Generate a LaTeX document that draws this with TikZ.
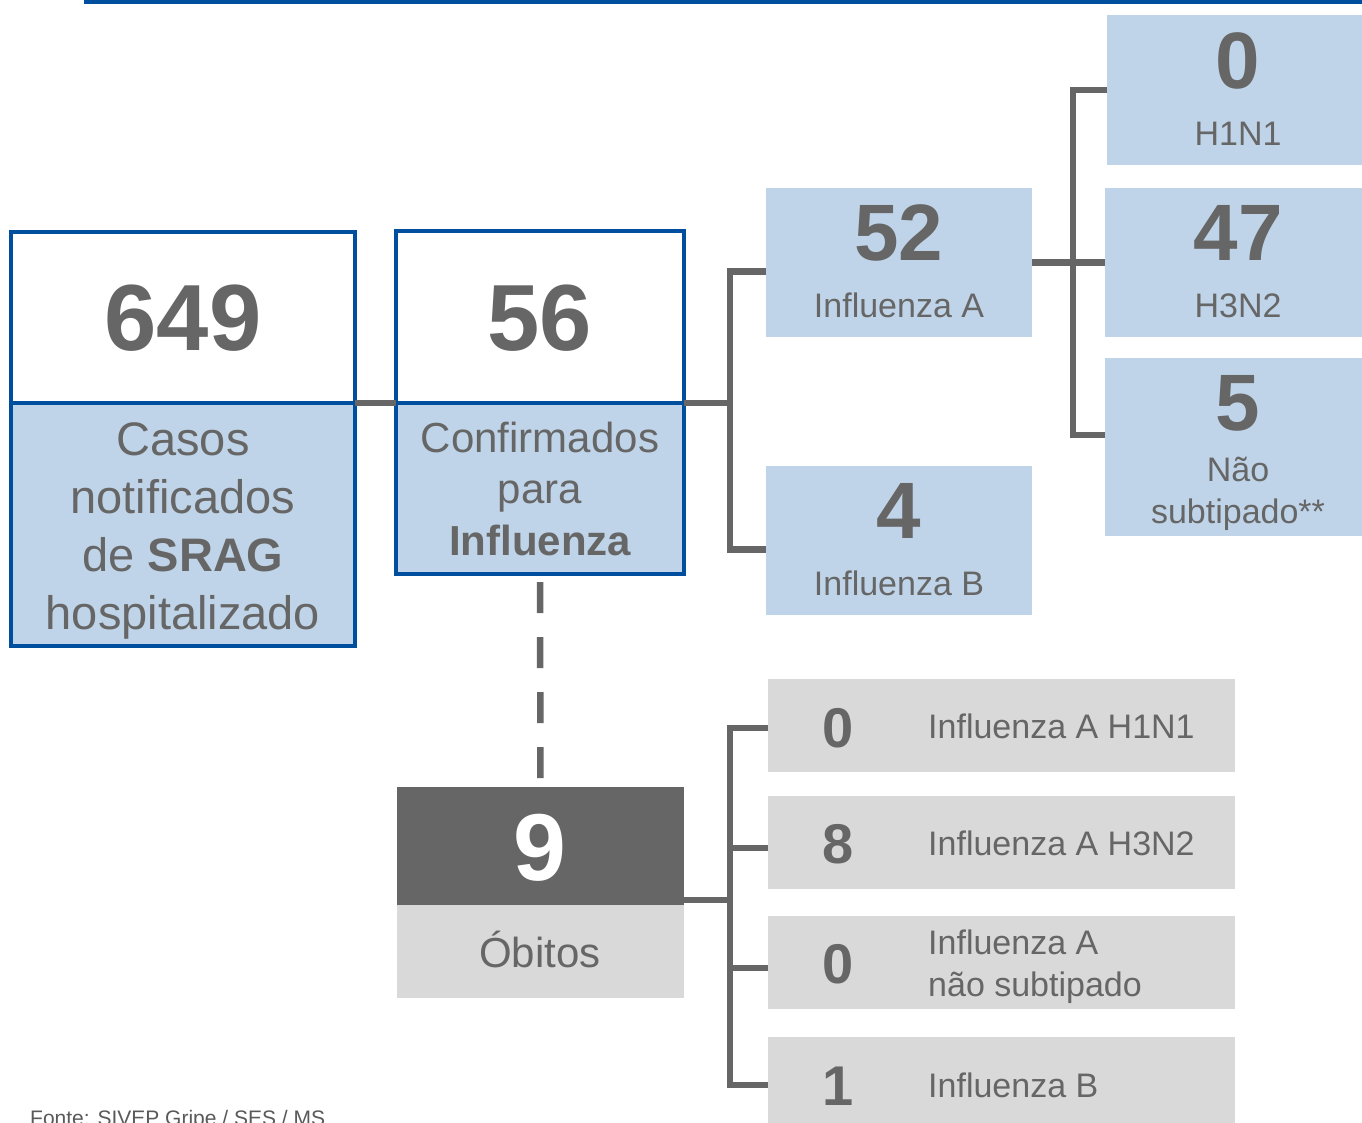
\documentclass[tikz,border=0pt]{standalone}
\usepackage{fontspec}
\setmainfont{Liberation Sans}
\definecolor{bblue}{RGB}{0,78,158}
\definecolor{lblue}{RGB}{191,212,232}
\definecolor{lgray}{RGB}{217,217,217}
\definecolor{dgray}{RGB}{102,102,102}
\definecolor{ftgray}{RGB}{89,89,89}
\newcommand{\fs}[1]{\fontsize{#1}{#1}\selectfont}
\begin{document}
\begin{tikzpicture}[x=1pt,y=-1pt,
  box/.style={inner sep=0pt, outer sep=0pt, anchor=north west, minimum width=#1},
  bluebox/.style={draw=bblue, line width=4.5pt},
  conn/.style={draw=dgray, line width=6.5pt},
  dconn/.style={draw=dgray, line width=6.5pt, dash pattern=on 31pt off 24pt},
  txt/.style={text=dgray, inner sep=0pt, anchor=base},
  ltxt/.style={text=dgray, inner sep=0pt, anchor=base west}]
\useasboundingbox (0,0) rectangle (1362,1122);
% top rule
\draw[bblue, line width=4.5pt] (84,2) -- (1362,2);
% 649 box
\node[box=344pt, minimum height=171pt, fill=white, bluebox] (c649) at (11,232) {};
\node[box=344pt, minimum height=243pt, fill=lblue, bluebox] (c649l) at (11,403) {};
\node[txt, font=\fs{94}\bfseries] (n649) at (183,350) {649};
\node[txt, font=\fs{47}] (l649a) at (183,455) {Casos};
\node[txt, font=\fs{47}] (l649b) at (183,513) {notificados};
\node[txt, font=\fs{47}] (l649c) at (183,571) {de \textbf{SRAG}};
\node[txt, font=\fs{47}] (l649d) at (183,629) {hospitalizado};
% 56 box
\node[box=288pt, minimum height=172pt, fill=white, bluebox] (c56) at (396,231) {};
\node[box=288pt, minimum height=171pt, fill=lblue, bluebox] (c56l) at (396,403) {};
\node[txt, font=\fs{94}\bfseries] (n56) at (540,350) {56};
\node[txt, font=\fs{42}] (l56a) at (540,452) {Confirmados};
\node[txt, font=\fs{42}] (l56b) at (540,503) {para};
\node[txt, font=\fs{42}\bfseries] (l56c) at (540,555) {Influenza};
% Influenza A / B
\node[box=266pt, minimum height=149pt, fill=lblue] (iA) at (766,188) {};
\node[txt, font=\fs{80}\bfseries] (n52) at (899,260) {52};
\node[txt, font=\fs{34}] (lA) at (899,317) {Influenza A};
\node[box=266pt, minimum height=149pt, fill=lblue] (iB) at (766,466) {};
\node[txt, font=\fs{80}\bfseries] (n4) at (899,538) {4};
\node[txt, font=\fs{34}] (lB) at (899,595) {Influenza B};
% subtypes
\node[box=260pt, minimum height=150pt, fill=lblue] (h1) at (1107,15) {};
\node[txt, font=\fs{80}\bfseries] (n0a) at (1238,88) {0};
\node[txt, font=\fs{34}] (lh1) at (1238,145) {H1N1};
\node[box=262pt, minimum height=149pt, fill=lblue] (h3) at (1105,188) {};
\node[txt, font=\fs{80}\bfseries] (n47) at (1238,260) {47};
\node[txt, font=\fs{34}] (lh3) at (1238,317) {H3N2};
\node[box=262pt, minimum height=178pt, fill=lblue] (n5) at (1105,358) {};
\node[txt, font=\fs{80}\bfseries] (n5t) at (1238,430) {5};
\node[txt, font=\fs{34}] (l5a) at (1238,481) {Não};
\node[txt, font=\fs{34}] (l5b) at (1238,523) {subtipado**};
% connectors top
\coordinate (j1) at (730,403);
\draw[conn] (c649l.north east) -- (c56l.north west);
\draw[conn] (c56l.north east) -- (j1);
\draw[conn] ([yshift=-9pt]iA.west) -| (j1) |- ([yshift=-9pt]iB.west);
\coordinate (j2) at (1073,263);
\draw[conn] (iA.east) -- (h3.west);
\draw[conn] (h1.west) -| (j2) |- ([yshift=12pt]n5.west);
% deaths
\node[box=287pt, minimum height=118pt, fill=dgray] (d9) at (397,787) {};
\node[txt, text=white, font=\fs{95}\bfseries] (n9) at (540,880) {9};
\node[box=287pt, minimum height=93pt, fill=lgray] (ob) at (397,905) {};
\node[txt, font=\fs{42}] (lob) at (540,967) {Óbitos};
\draw[dconn] ([yshift=-8pt]c56l.south) -- (d9.north);
% gray boxes
\node[box=467pt, minimum height=93pt, fill=lgray] (g1) at (768,679) {};
\node[txt, font=\fs{56}\bfseries] (g1n) at (838,747) {0};
\node[ltxt, font=\fs{34}] (g1l) at (928,738) {Influenza A H1N1};
\node[box=467pt, minimum height=93pt, fill=lgray] (g2) at (768,796) {};
\node[txt, font=\fs{56}\bfseries] (g2n) at (838,863) {8};
\node[ltxt, font=\fs{34}] (g2l) at (928,855) {Influenza A H3N2};
\node[box=467pt, minimum height=93pt, fill=lgray] (g3) at (768,916) {};
\node[txt, font=\fs{56}\bfseries] (g3n) at (838,983) {0};
\node[ltxt, font=\fs{34}] (g3la) at (928,954) {Influenza A};
\node[ltxt, font=\fs{34}] (g3lb) at (928,996) {não subtipado};
\node[box=467pt, minimum height=93pt, fill=lgray] (g4) at (768,1037) {};
\node[txt, font=\fs{56}\bfseries] (g4n) at (838,1105) {1};
\node[ltxt, font=\fs{34}] (g4l) at (928,1097) {Influenza B};
\coordinate (j3) at (730,900);
\draw[conn] ([yshift=5pt]d9.south east) -- (j3);
\draw[conn] ([yshift=-2.5pt]g1.west) -| (j3) |- ([yshift=-1.5pt]g4.west);
\draw[conn] ([yshift=-5.5pt]g2.west) -- ++(-38,0);
\draw[conn] ([yshift=-5.5pt]g3.west) -- ++(-38,0);
% footer
\node[anchor=base west, inner sep=0pt, text=ftgray, font=\fs{21}] (src) at (30,1125) {Fonte: SIVEP Gripe / SES / MS};
\end{tikzpicture}
\end{document}
